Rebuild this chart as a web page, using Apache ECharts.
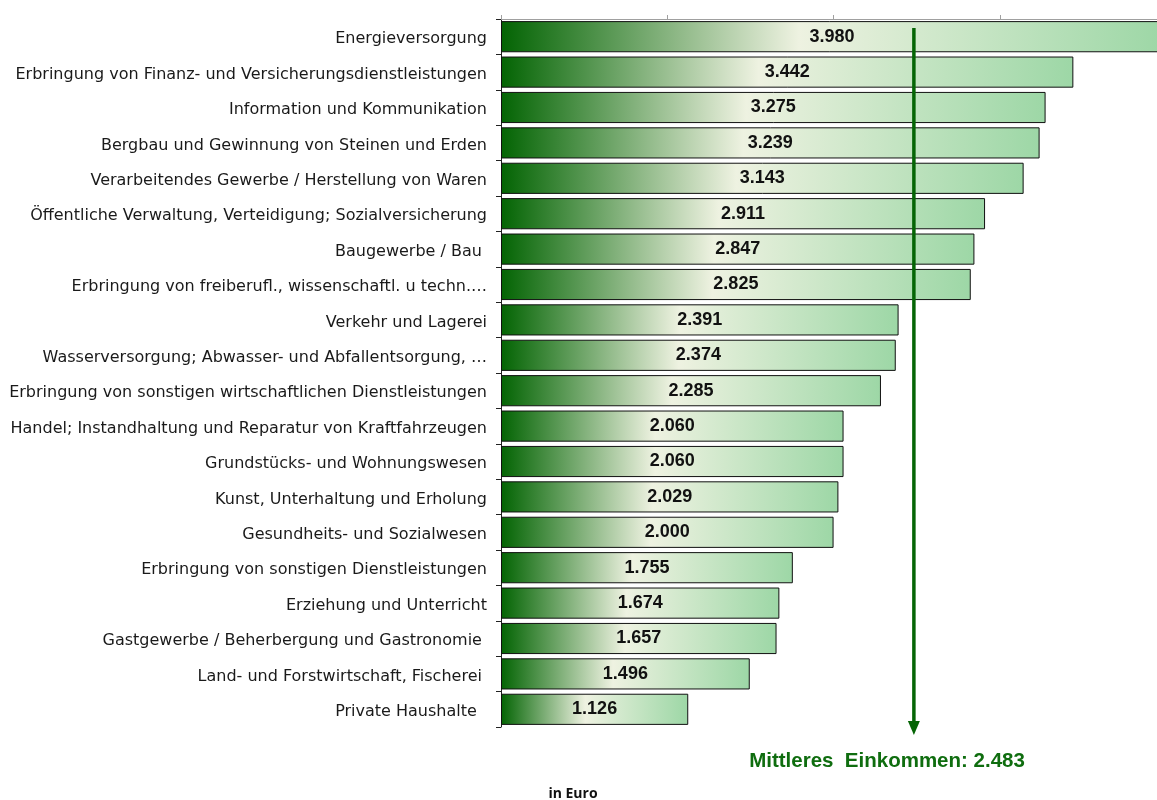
<!DOCTYPE html>
<html><head><meta charset="utf-8">
<script src="https://cdn.jsdelivr.net/npm/echarts@6/dist/echarts.min.js"></script>
<style>html,body{margin:0;padding:0;background:#fff}#c{width:1157px;height:800px}</style>
</head><body><div id="c"></div>
<script>
const categories = [
  "Energieversorgung",
  "Erbringung von Finanz- und Versicherungsdienstleistungen",
  "Information und Kommunikation",
  "Bergbau und Gewinnung von Steinen und Erden",
  "Verarbeitendes Gewerbe / Herstellung von Waren",
  "Öffentliche Verwaltung, Verteidigung; Sozialversicherung",
  "Baugewerbe / Bau\u00a0",
  "Erbringung von freiberufl., wissenschaftl. u techn.…",
  "Verkehr und Lagerei",
  "Wasserversorgung; Abwasser- und Abfallentsorgung, …",
  "Erbringung von sonstigen wirtschaftlichen Dienstleistungen",
  "Handel; Instandhaltung und Reparatur von Kraftfahrzeugen",
  "Grundstücks- und Wohnungswesen",
  "Kunst, Unterhaltung und Erholung",
  "Gesundheits- und Sozialwesen",
  "Erbringung von sonstigen Dienstleistungen",
  "Erziehung und Unterricht",
  "Gastgewerbe / Beherbergung und Gastronomie\u00a0",
  "Land- und Forstwirtschaft, Fischerei\u00a0",
  "Private Haushalte\u00a0\u00a0"
];
const values = [3980,3442,3275,3239,3143,2911,2847,2825,2391,2374,2285,2060,2060,2029,2000,1755,1674,1657,1496,1126];
const xTicks = [0,1000,2000,3000];
const meanValue = 2483;
const meanLabel = "Mittleres  Einkommen: 2.483";
const unitLabel = "in Euro";

function fmt(v){ return (v/1000).toFixed(3); }

const chart = echarts.init(document.getElementById('c'));
const grad = new echarts.graphic.LinearGradient(0,0,1,0,[
  {offset:0,color:'#036403'},
  {offset:0.45,color:'#eef2e1'},
  {offset:1,color:'#9dd7a6'}
]);
chart.setOption({
  animation:false,
  grid:{left:501,top:19,right:0,bottom:73,containLabel:false},
  xAxis:{type:'value',position:'top',min:0,max:3945,interval:1000,
    axisLine:{show:true,lineStyle:{color:'#a0a0a0',width:1}},
    axisTick:{show:true,length:4,customValues:xTicks,lineStyle:{color:'#a0a0a0'}},
    axisLabel:{show:false},splitLine:{show:false}},
  yAxis:{type:'category',data:categories,inverse:true,
    axisLine:{show:true,lineStyle:{color:'#222',width:1}},
    axisTick:{show:true,length:5,lineStyle:{color:'#222'}},
    axisLabel:{margin:14,formatter:v=>'{a|'+v+'}',
      rich:{a:{padding:[5,0,0,0],fontFamily:'DejaVu Sans',fontSize:16,color:'#1a1a1a'}},
      fontFamily:'DejaVu Sans',fontSize:16,color:'#1a1a1a'}},
  series:[{type:'bar',data:values,barCategoryGap:'12%',clip:false,
    itemStyle:{color:grad,borderColor:'#111',borderWidth:1},
    label:{show:true,position:'inside',formatter:p=>fmt(p.value),
      fontFamily:'Liberation Sans',fontWeight:'bold',fontSize:18,color:'#111'}}]
});
const mx = chart.convertToPixel({xAxisIndex:0}, meanValue);
chart.setOption({graphic:[
  {type:'line',z:100,shape:{x1:mx,y1:28,x2:mx,y2:723},style:{stroke:'#056505',lineWidth:3.5}},
  {type:'polygon',z:100,shape:{points:[[mx-6,721],[mx+6,721],[mx,735]]},style:{fill:'#056505'}},
  {type:'text',z:100,style:{x:887,y:761,text:meanLabel,textAlign:'center',textVerticalAlign:'middle',
    font:'bold 20.5px "Liberation Sans"',fill:'#0f6d0f'}},
  {type:'text',z:100,style:{x:573,y:794,text:unitLabel,textAlign:'center',textVerticalAlign:'middle',
    font:'bold 14px "Open Sans"',fill:'#111'}}
]});
</script></body></html>
